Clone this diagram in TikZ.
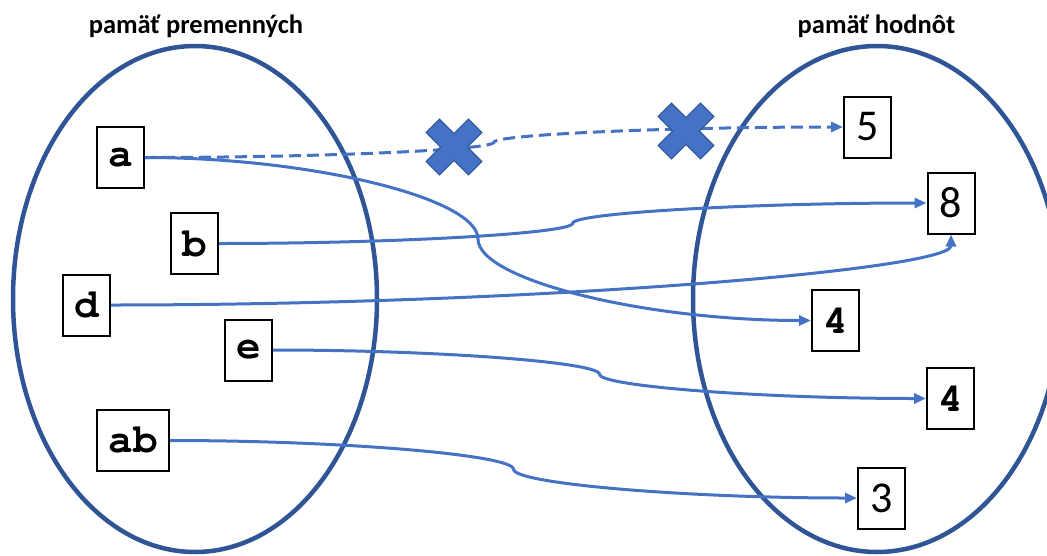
\documentclass[tikz,border=0pt]{standalone}
\usepackage{fontspec}
\setmainfont{Carlito}
\newfontfamily\codefont{TeX Gyre Cursor}
\usetikzlibrary{arrows.meta,calc}
\definecolor{ringblue}{HTML}{2F5597}
\definecolor{linkblue}{HTML}{4472C4}

\tikzset{
  % S-shaped connector: horizontal at both ends, vertical at its middle
  sbend/.style={to path={
    let \p1=(\tikztostart), \p2=(\tikztotarget) in
    .. controls ({\x1+(\x2-\x1)/4},\y1) and ({(\x1+\x2)/2},{\y1+(\y2-\y1)/4})
    .. ({(\x1+\x2)/2},{(\y1+\y2)/2})
    .. controls ({(\x1+\x2)/2},{\y1+3*(\y2-\y1)/4}) and ({\x1+3*(\x2-\x1)/4},\y2)
    .. (\tikztotarget) \tikztonodes}},
  % L-shaped connector: leaves horizontally, arrives vertically
  lbend/.style={to path={
    let \p1=(\tikztostart), \p2=(\tikztotarget) in
    .. controls ({(\x1+\x2)/2},\y1) and (\x2,{(\y1+\y2)/2})
    .. (\tikztotarget) \tikztonodes}},
  crossmark/.pic={
    \begin{scope}[rotate=45]
      \filldraw[fill=linkblue,draw=ringblue,line width=1pt,line join=miter]
        (9.5,30) -- (9.5,9.5) -- (30,9.5) -- (30,-9.5) -- (9.5,-9.5) -- (9.5,-30)
        -- (-9.5,-30) -- (-9.5,-9.5) -- (-30,-9.5) -- (-30,9.5) -- (-9.5,9.5)
        -- (-9.5,30) -- cycle;
    \end{scope}}
}

\begin{document}
\begin{tikzpicture}[x=1pt,y=-1pt,
  memring/.style={draw=ringblue,line width=4.5pt},
  title/.style={font=\fontsize{26.5}{30}\selectfont\bfseries,inner sep=0pt},
  cell/.style={draw=black,line width=2pt,fill=white,minimum width=47pt,
    minimum height=61pt,inner sep=0pt,
    font=\fontsize{41}{41}\selectfont\codefont\bfseries},
  numcell/.style={cell,font=\fontsize{44}{44}\selectfont},
  link/.style={draw=linkblue,line width=3pt,
    -{Triangle[length=12pt,width=10pt]}},
  droplink/.style={link,dash pattern=on 12pt off 6pt}]

\useasboundingbox (0,0) rectangle (1047,555);
\clip (0,0) rectangle (1047,555);

% the two memory areas
\draw[memring] (195,299) ellipse [x radius=182, y radius=253];
\draw[memring] (877,299) ellipse [x radius=184, y radius=253];

\node[title,anchor=base] (varlabel) at (196,33.5) {pamäť premenných};
\node[title,anchor=base] (vallabel) at (876.5,33.5) {pamäť hodnôt};

% variables
\node[cell] (a) at (120.5,157.5) {a};
\node[cell] (b) at (194.5,243.5) {b};
\node[cell] (d) at (86.5,305) {d};
\node[cell] (e) at (248.5,350) {e};
\node[cell,minimum width=72pt] (ab) at (133,440.5) {ab};

% values
\node[numcell] (v5) at (867.5,127) {5};
\node[numcell] (v8) at (951,203) {8};
\node[cell] (v4a) at (835.5,320.5) {4};
\node[cell] (v4b) at (950.5,398.5) {4};
\node[numcell] (v3) at (881.5,498) {3};

% references
\draw[droplink] (a.east) to[sbend] (v5.west);
\draw[link] (a.east) to[sbend] (v4a.west);
\draw[link] (b.east) to[sbend] (v8.west);
\draw[link] (d.east) to[lbend] (v8.south);
\draw[link] (e.east) to[sbend] (v4b.west);
\draw[link] (ab.east) to[sbend] (v3.west);

% the dropped reference is crossed out
\pic at (454,147) {crossmark};
\pic at (686,131) {crossmark};
\end{tikzpicture}
\end{document}
